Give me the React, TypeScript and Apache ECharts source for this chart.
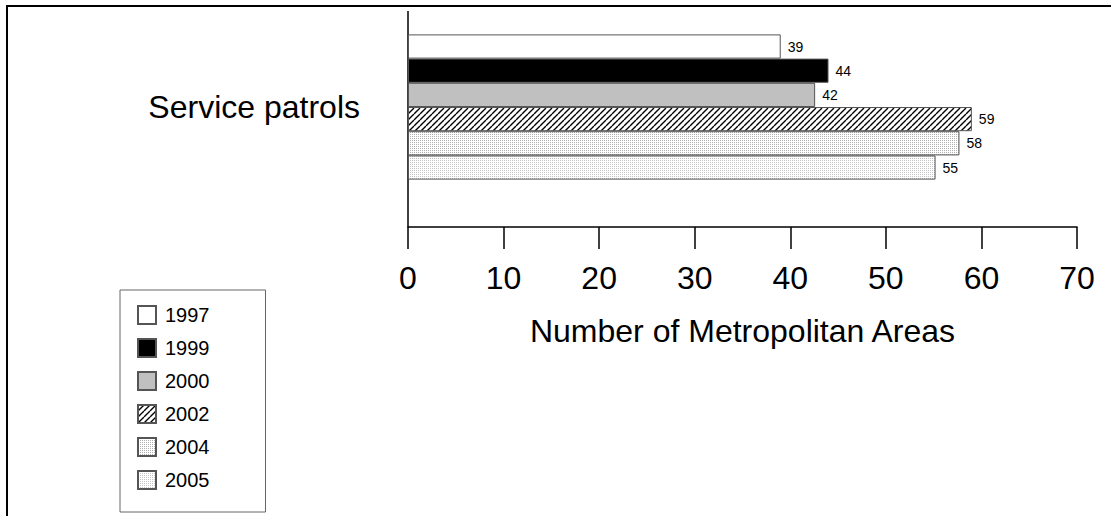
import React, { useEffect, useRef } from "react";
import * as echarts from "echarts";

const categories = ["Service patrols"];
const years = ["1997", "1999", "2000", "2002", "2004", "2005"];
const values = [39, 44, 42.6, 59, 57.7, 55.2];
const valueLabels = ["39", "44", "42", "59", "58", "55"];
const xTicks = [0, 10, 20, 30, 40, 50, 60, 70];

const FONT = "Liberation Sans, Arial, sans-serif";

function makeHatch(): HTMLCanvasElement {
  const c = document.createElement("canvas");
  c.width = 6;
  c.height = 6;
  const g = c.getContext("2d")!;
  g.fillStyle = "#ffffff";
  g.fillRect(0, 0, 6, 6);
  g.strokeStyle = "#000000";
  g.lineWidth = 1.4;
  g.beginPath();
  for (let k = -6; k <= 12; k += 6) {
    g.moveTo(k, 6);
    g.lineTo(k + 6, 0);
  }
  g.stroke();
  return c;
}

function makeDots(col: string, step: number): HTMLCanvasElement {
  const size = step * 2;
  const c = document.createElement("canvas");
  c.width = size;
  c.height = size;
  const g = c.getContext("2d")!;
  g.fillStyle = "#ffffff";
  g.fillRect(0, 0, size, size);
  g.fillStyle = col;
  for (let x = 0; x < size; x += step) {
    for (let y = 0; y < size; y += step) {
      g.fillRect(x, y, 1, 1);
    }
  }
  return c;
}

export default function App() {
  const ref = useRef<HTMLDivElement>(null);
  useEffect(() => {
    if (!ref.current) return;
    const chart = echarts.init(ref.current, undefined, { renderer: "svg" });
    const fills: any[] = [
      "#ffffff",
      "#000000",
      "#c0c0c0",
      { image: makeHatch(), repeat: "repeat" },
      { image: makeDots("#b0b0b0", 2), repeat: "repeat" },
      { image: makeDots("#c4c4c4", 2), repeat: "repeat" },
    ];
    const series = years.map((y, i) => ({
      name: y,
      type: "bar",
      data: [values[i]],
      barGap: "0%",
      barWidth: 24.2,
      itemStyle: { color: fills[i], borderColor: "#555555", borderWidth: 1 },
      label: {
        show: true,
        position: "right",
        distance: 7,
        formatter: () => valueLabels[i],
        fontFamily: FONT,
        fontSize: 14,
        color: "#000",
      },
    }));
    chart.setOption({
      animation: false,
      backgroundColor: "#ffffff",
      grid: { left: 408, right: 34, top: 0, bottom: 302, containLabel: false },
      xAxis: {
        type: "value",
        min: 0,
        max: 70,
        interval: 10,
        offset: 13,
        axisLine: { show: true, lineStyle: { color: "#000", width: 1.5 } },
        axisTick: { show: true, length: 22, lineStyle: { color: "#000", width: 1.5 } },
        axisLabel: {
          margin: 35,
          fontSize: 32,
          color: "#000",
          fontFamily: FONT,
          formatter: (v: number) => (xTicks.includes(v) ? String(v) : ""),
        },
        splitLine: { show: false },
        name: "Number of Metropolitan Areas",
        nameLocation: "middle",
        nameGap: 88,
        nameTextStyle: { fontSize: 32, color: "#000", fontFamily: FONT },
      },
      yAxis: {
        type: "category",
        inverse: true,
        data: categories,
        axisLine: { show: false },
        axisTick: { show: false },
        axisLabel: {
          margin: 48,
          fontSize: 32,
          color: "#000",
          fontFamily: FONT,
          padding: [6, 0, 0, 0],
        },
      },
      legend: {
        orient: "vertical",
        left: 120,
        top: 290,
        height: 400,
        icon: "rect",
        itemWidth: 18,
        itemHeight: 18,
        itemGap: 13,
        padding: [15, 56, 22, 17],
        borderColor: "#666666",
        borderWidth: 1,
        data: years,
        textStyle: { fontSize: 20, lineHeight: 18, color: "#000", fontFamily: FONT, padding: [0, 0, 0, 4] },
      },
      graphic: [
        { type: "line", shape: { x1: 408, y1: 11, x2: 408, y2: 227 }, style: { stroke: "#000", lineWidth: 1.5 } },
        { type: "line", shape: { x1: 6, y1: 6, x2: 1111, y2: 6 }, style: { stroke: "#000", lineWidth: 2 } },
        { type: "line", shape: { x1: 7, y1: 5, x2: 7, y2: 516 }, style: { stroke: "#000", lineWidth: 2 } },
      ],
      series,
    });
    return () => chart.dispose();
  }, []);
  return (
    <div
      ref={ref}
      style={{ position: "fixed", left: 0, top: 0, width: 1111, height: 516, background: "#fff" }}
    />
  );
}
